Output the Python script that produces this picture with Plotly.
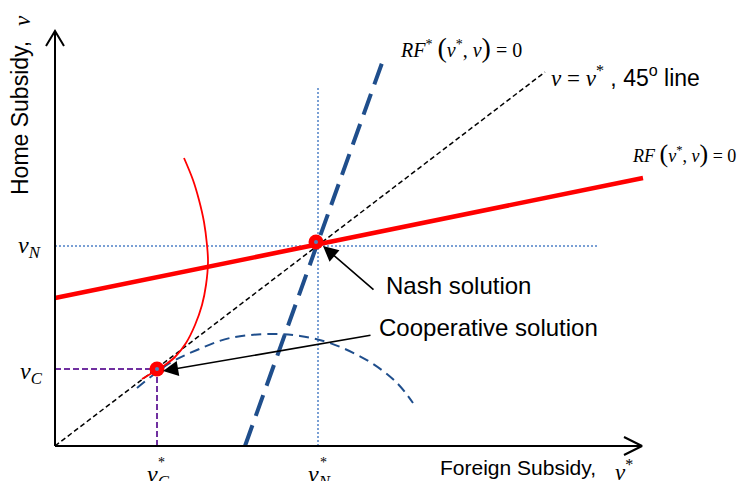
import plotly.graph_objects as go

# Coordinates: origin at the axes' intersection; units follow the original drawing
# Home reaction function RF(v*, v) = 0 (red, thick)
rf_x = [0, 588]
rf_y = [148, 268]
# Foreign reaction function RF*(v*, v) = 0 (blue, thick dashed)
rfs_x = [190, 327]
rfs_y = [0, 383]
# 45 degree line v = v*
diag_x = [0, 490]
diag_y = [0, 374]
# Home iso-welfare contour through cooperative point (red, thin)
iso_home_x = [129, 138, 144, 149, 152, 153, 151, 147, 140, 131, 120, 110, 102, 87]
iso_home_y = [288, 266, 246, 224, 201, 184, 161, 141, 121, 103, 89, 81, 76, 67]
# Foreign iso-welfare contour (blue, thin dashed)
iso_for_x = [82, 115, 142, 175, 218, 245, 275, 315, 342, 358]
iso_for_y = [58, 83, 96, 108, 112, 110, 103, 84, 63, 43]
# Nash and cooperative solutions
nash = (261, 204)
nash_guide = (263, 200)
nash_guide_ext = (543, 358)
coop = (102, 77)
# Axis extents
x_axis_end = 587
y_axis_end = 415

AX = "Liberation Sans, Arial, sans-serif"
SERIF = "Liberation Serif, Times New Roman, serif"

fig = go.Figure()

def line(xs, ys, color, width, dash=None, shape="linear"):
    fig.add_trace(go.Scatter(x=xs, y=ys, mode="lines",
                             line=dict(color=color, width=width, dash=dash, shape=shape),
                             hoverinfo="skip"))

# guides
line([nash_guide[0], nash_guide[0]], [0, nash_guide_ext[1]], "#4F81C8", 1.5, "2px,2px")
line([0, nash_guide_ext[0]], [nash_guide[1], nash_guide[1]], "#4F81C8", 1.5, "2px,2px")
line([0, coop[0]], [coop[1], coop[1]], "#7030A0", 2, "6px,3px")
line([coop[0], coop[0]], [0, coop[1]], "#7030A0", 2, "6px,3px")

# curves
line(diag_x, diag_y, "black", 1.5, "5px,3px")
line(iso_for_x, iso_for_y, "#1F4E8C", 2, "10px,6px", "spline")
line(iso_home_x, iso_home_y, "#FF0000", 1.8, None, "spline")
line(rfs_x, rfs_y, "#1F4E8C", 4, "22px,10px")
line(rf_x, rf_y, "#FF0000", 4.5)

# axes with open arrowheads
line([0, 0], [0, y_axis_end], "black", 2)
line([-9, 0, 9], [y_axis_end - 15, y_axis_end, y_axis_end - 15], "black", 2)
line([0, x_axis_end], [0, 0], "black", 2)
line([x_axis_end - 18, x_axis_end, x_axis_end - 18], [9, 0, -9], "black", 2)

# solution points
for p in (nash, coop):
    fig.add_trace(go.Scatter(x=[p[0]], y=[p[1]], mode="markers",
                             marker=dict(color="#FF0000", size=15), hoverinfo="skip"))
    fig.add_trace(go.Scatter(x=[p[0]], y=[p[1]], mode="markers",
                             marker=dict(color="#4F81BD", size=4), hoverinfo="skip"))

ann = []
def text(x, y, t, size, family=AX, xanchor="left", angle=0):
    ann.append(dict(x=x, y=y, xref="x", yref="y", text=t, showarrow=False,
                    xanchor=xanchor, yanchor="middle", textangle=angle,
                    font=dict(family=family, size=size, color="black")))

def arrow(tip, tail):
    ann.append(dict(x=tip[0], y=tip[1], ax=tail[0], ay=tail[1], xref="x", yref="y",
                    axref="x", ayref="y", text="", showarrow=True, arrowhead=2,
                    arrowsize=1.9, arrowwidth=1.6, arrowcolor="black"))

arrow((268, 200), (320, 155))
arrow((108, 75), (317, 111))

text(329, 161, "Nash solution", 24)
text(322, 119, "Cooperative solution", 24)

sp = lambda s, f: f'<span style="font-size:{f}px">{s}</span>'
text(343, 399, "<i>RF</i><sup>*</sup> " + sp("(", 28) + "<i>v</i><sup>*</sup>, <i>v</i>" + sp(")", 28) + " = 0", 20, SERIF)
text(494, 370, "<i>v</i> = <i>v</i><sup>*</sup>"
     + f'<span style="font-family:{AX};font-size:23px"> , 45<sup>o</sup> line</span>', 23, SERIF)
text(575, 293, "<i>RF</i> " + sp("(", 26) + "<i>v</i><sup>*</sup>, <i>v</i>" + sp(")", 26) + " = 0", 18, SERIF)

text(383, -21, "Foreign Subsidy,", 21)
text(558, -24, "<i>v</i><sup>*</sup>", 23, SERIF)
text(-35, 328, "Home Subsidy,", 23, AX, "center", -90)
text(-33, 425, "<i>v</i>", 23, SERIF, "center", -90)

text(-39, 199, "<i>v</i><sub><i>N</i></sub>", 24, SERIF)
text(-37, 73, "<i>v</i><sub><i>C</i></sub>", 24, SERIF)
text(90, -30, "<i>v</i><sub><i>C</i></sub>", 24, SERIF)
text(251, -30, "<i>v</i><sub><i>N</i></sub>", 24, SERIF)
text(106, -16, "*", 14, SERIF, "center")
text(268, -16, "*", 14, SERIF, "center")

fig.update_layout(
    width=743, height=481, margin=dict(l=0, r=0, t=0, b=0),
    paper_bgcolor="white", plot_bgcolor="white", showlegend=False,
    xaxis=dict(range=[-55, 688], visible=False, fixedrange=True),
    yaxis=dict(range=[-35, 446], visible=False, fixedrange=True),
    annotations=ann,
)
fig.write_html("out.html")
